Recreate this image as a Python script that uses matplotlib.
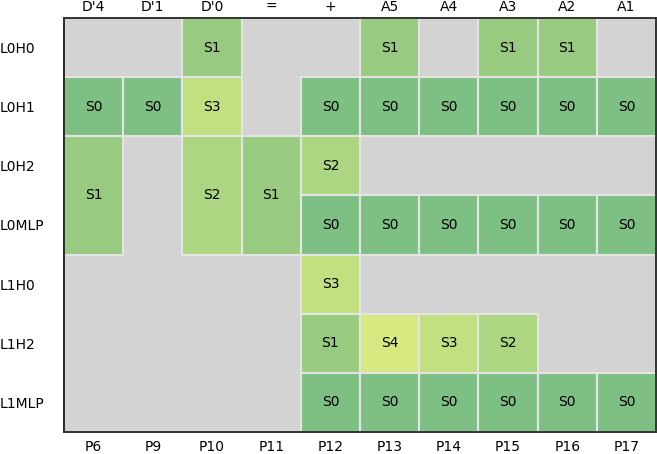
import matplotlib
matplotlib.use("Agg")
import matplotlib.pyplot as plt
from matplotlib.patches import Rectangle

row_labels = ["L0H0", "L0H1", "L0H2", "L0MLP", "L1H0", "L1H2", "L1MLP"]
top_labels = ["D'4", "D'1", "D'0", "=", "+", "A5", "A4", "A3", "A2", "A1"]
bottom_labels = ["P6", "P9", "P10", "P11", "P12", "P13", "P14", "P15", "P16", "P17"]

# cells: row index, column index, row span, label
cell_rows = [0, 0, 0, 0,
             1, 1, 1, 1, 1, 1, 1, 1, 1,
             2, 2, 2, 2,
             3, 3, 3, 3, 3, 3,
             4,
             5, 5, 5, 5,
             6, 6, 6, 6, 6, 6]
cell_cols = [2, 5, 7, 8,
             0, 1, 2, 4, 5, 6, 7, 8, 9,
             0, 2, 3, 4,
             4, 5, 6, 7, 8, 9,
             4,
             4, 5, 6, 7,
             4, 5, 6, 7, 8, 9]
cell_spans = [1, 1, 1, 1,
              1, 1, 1, 1, 1, 1, 1, 1, 1,
              2, 2, 2, 1,
              1, 1, 1, 1, 1, 1,
              1,
              1, 1, 1, 1,
              1, 1, 1, 1, 1, 1]
cell_labels = ["S1", "S1", "S1", "S1",
               "S0", "S0", "S3", "S0", "S0", "S0", "S0", "S0", "S0",
               "S1", "S2", "S1", "S2",
               "S0", "S0", "S0", "S0", "S0", "S0",
               "S3",
               "S1", "S4", "S3", "S2",
               "S0", "S0", "S0", "S0", "S0", "S0"]

stage_colors = {"S0": "#7ec083", "S1": "#98cb80", "S2": "#acd681",
                "S3": "#c2e07f", "S4": "#d6ea81"}

fig = plt.figure(figsize=(6.57, 4.54), dpi=100)
ax = fig.add_axes([64/657, 1-432/454, 592/657, 414/454])
ax.set_facecolor("#d3d3d3")
ax.set_xlim(0, len(top_labels))
ax.set_ylim(len(row_labels), 0)

for r, c, s, lab in zip(cell_rows, cell_cols, cell_spans, cell_labels):
    ax.add_patch(Rectangle((c, r), 1, s, facecolor=stage_colors[lab],
                           edgecolor="#e4e4e4", linewidth=1.5))
    ax.text(c + 0.5, r + s / 2, lab, ha="center", va="center", fontsize=10, color="black")

ax.set_yticks([i + 0.5 for i in range(len(row_labels))])
ax.set_yticklabels(row_labels, ha="left", fontsize=10)
ax.tick_params(axis="y", length=0, pad=46)

ax.set_xticks([i + 0.5 for i in range(len(bottom_labels))])
ax.set_xticklabels(bottom_labels, fontsize=10)
ax.tick_params(axis="x", length=0, pad=6)

ax2 = ax.twiny()
ax2.set_xlim(ax.get_xlim())
ax2.set_xticks([i + 0.5 for i in range(len(top_labels))])
ax2.set_xticklabels(top_labels, fontsize=10)
ax2.tick_params(axis="x", length=0, pad=3)

for a in (ax, ax2):
    for sp in a.spines.values():
        sp.set_color("#333333")
        sp.set_linewidth(1.2)
ax.spines["left"].set_color("black")

fig.savefig("out.png", dpi=100)
